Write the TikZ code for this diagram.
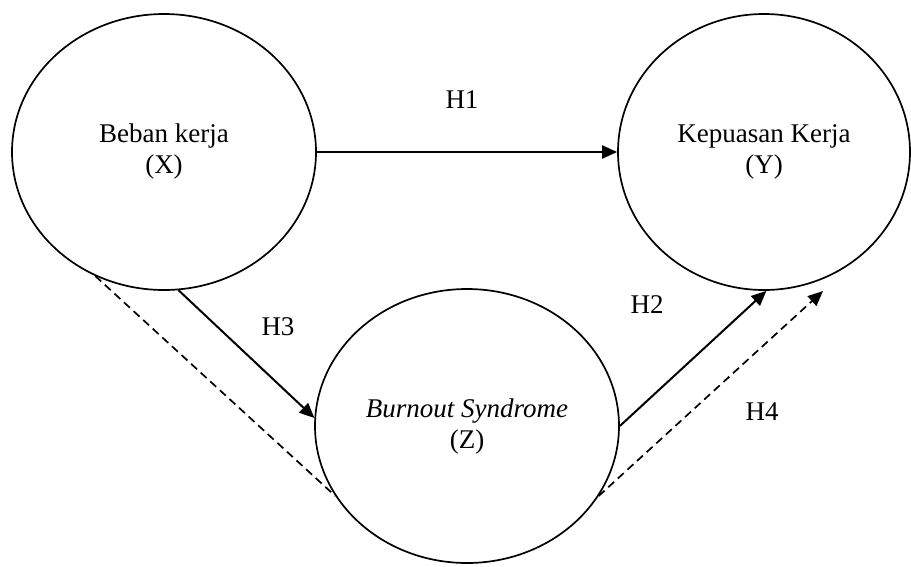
\documentclass[tikz,border=0pt]{standalone}
\usepackage{fontspec}
\setmainfont{Liberation Serif}
\usetikzlibrary{shapes.geometric,arrows.meta}
\begin{document}
\begin{tikzpicture}[x=1pt,y=-1pt,
  var/.style={ellipse,draw=black,line width=1.7pt,inner sep=0pt,align=center,
    font=\fontsize{27}{31}\selectfont},
  lbl/.style={font=\fontsize{27}{31}\selectfont,inner sep=0pt},
  tip/.style={-{Triangle[length=15pt,width=13pt]}},
  conn/.style={line width=2pt,tip},
  dsh/.style={line width=1.7pt,dash pattern=on 8pt off 5pt}]
\useasboundingbox (0,0) rectangle (911,566);
\node[var,minimum width=304pt,minimum height=276pt] (X) at (164,152) {Beban kerja\\(X)};
\node[var,minimum width=292pt,minimum height=276pt] (Y) at (764,152) {Kepuasan Kerja\\(Y)};
\node[var,minimum width=304pt,minimum height=274pt] (Z) at (467,426) {\textit{Burnout Syndrome}\\(Z)};
\coordinate (y4) at (823,291);
\draw[conn] (X.east) -- (Y.west);
\draw[conn] (X.-84.6) -- (Z.177.4);
\draw[dsh] (X.-119.7) -- (Z.-152);
\draw[conn] (Z.0) -- (Y.-89);
\draw[dsh,tip] (Z.-28.4) -- (y4);
\node[lbl] (h1) at (462,100) {H1};
\node[lbl] (h3) at (278,327) {H3};
\node[lbl] (h2) at (647,305) {H2};
\node[lbl] (h4) at (762,412) {H4};
\end{tikzpicture}
\end{document}
